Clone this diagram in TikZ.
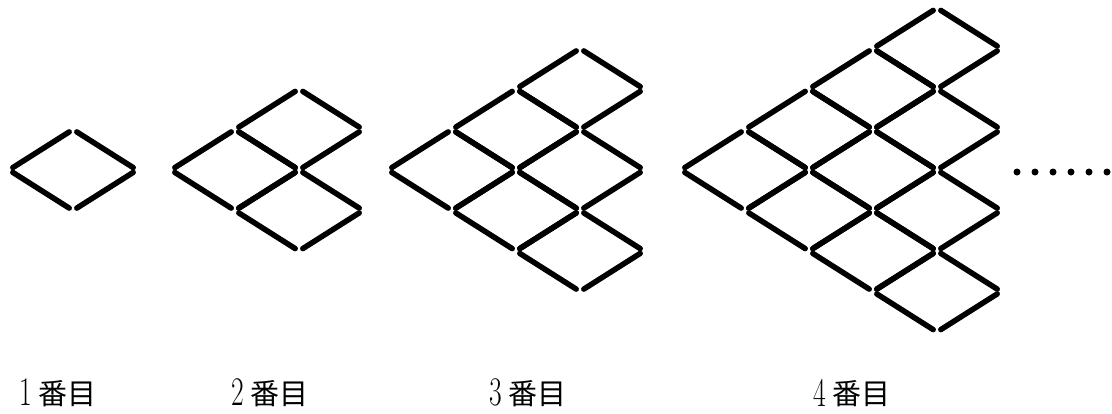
\documentclass[tikz,border=0pt]{standalone}
\usepackage{fontspec}
\newfontfamily\cjk{Noto Sans CJK JP}
\newcommand\tallnum[1]{\raisebox{-1.5pt}{\scalebox{0.95}[1.4]{#1}}}
\begin{document}
\begin{tikzpicture}[x=1pt,y=-1pt,
  stick/.style={line width=5.5pt, line cap=round, shorten >=4.5pt, shorten <=4.5pt},
  dotmark/.style={circle, fill=black, inner sep=0pt, minimum size=7pt},
  lbl/.style={anchor=west, inner sep=0pt, font=\fontsize{29}{29}\selectfont}]
\useasboundingbox (0,0) rectangle (1112,413);
\def\w{64}\def\h{40.5}\def\yc{170}
\foreach \f/\xo in {1/9,2/171,3/388,4/681}{
  \foreach \k in {1,...,\f}{
    \foreach \m in {1,...,\k}{
      \pgfmathsetmacro\cx{\xo+\k*\w}
      \pgfmathsetmacro\cy{\yc+(2*\m-\k-1)*\h}
      \coordinate (r\f-\k-\m-l) at (\cx-\w,\cy);
      \coordinate (r\f-\k-\m-t) at (\cx,\cy-\h);
      \coordinate (r\f-\k-\m-r) at (\cx+\w,\cy);
      \coordinate (r\f-\k-\m-b) at (\cx,\cy+\h);
      \draw[stick] (r\f-\k-\m-l) -- (r\f-\k-\m-t);
      \draw[stick] (r\f-\k-\m-t) -- (r\f-\k-\m-r);
      \draw[stick] (r\f-\k-\m-r) -- (r\f-\k-\m-b);
      \draw[stick] (r\f-\k-\m-b) -- (r\f-\k-\m-l);
    }
  }
}
\foreach \i in {0,...,5}{
  \node[dotmark] (d\i) at (1017+18*\i,172) {};
}
\node[lbl] (lab1) at (19,393) {\tallnum{1}\hspace{7pt}{\cjk 番目}};
\node[lbl] (lab2) at (231,393) {\tallnum{2}\hspace{7pt}{\cjk 番目}};
\node[lbl] (lab3) at (489,393) {\tallnum{3}\hspace{7pt}{\cjk 番目}};
\node[lbl] (lab4) at (813,393) {\tallnum{4}\hspace{7pt}{\cjk 番目}};
\end{tikzpicture}
\end{document}
